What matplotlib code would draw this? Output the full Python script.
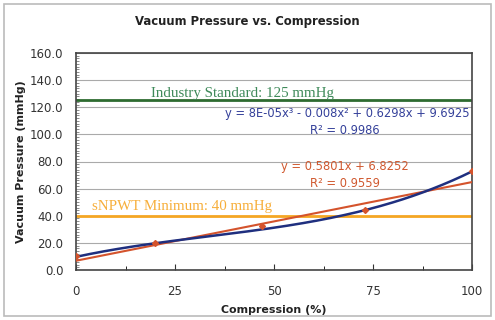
import numpy as np
import matplotlib
matplotlib.use("Agg")
import matplotlib.pyplot as plt
from matplotlib.patches import Rectangle
from matplotlib.ticker import MultipleLocator

# data
comp_x = [0, 20, 47, 73, 100]
vac_y = [10.0, 20.0, 32.5, 44.0, 73.0]
cubic_coef = [8e-05, -0.008, 0.6298, 9.6925]
lin_coef = [0.5801, 6.8252]
industry_std = 125
snpwt_min = 40
x_ticks = [0, 25, 50, 75, 100]
y_ticks = [0, 20, 40, 60, 80, 100, 120, 140, 160]

fig = plt.figure(figsize=(4.95, 3.2), dpi=100)
fig.patches.append(Rectangle((0.008, 0.012), 0.984, 0.975, transform=fig.transFigure,
                             fill=False, edgecolor="#bbbbbb", lw=1.2))
ax = fig.add_axes([76/495, 1-270/320, (472-76)/495, (270-53)/320])

xs = np.linspace(0, 100, 200)
ax.plot(xs, np.polyval(lin_coef, xs), color="#d4532c", lw=1.5, zorder=3)
ax.plot(xs, np.polyval(cubic_coef, xs), color="#1f2f7f", lw=1.8, zorder=4)
ax.plot(comp_x, vac_y, linestyle="none", marker="D", ms=3, color="#d4532c", zorder=5)
ax.axhline(industry_std, color="#2e6b30", lw=2, zorder=2)
ax.axhline(snpwt_min, color="#f5a623", lw=2, zorder=2)

ax.set_xlim(0, 100)
ax.set_ylim(0, 160)
ax.set_xticks(x_ticks)
ax.set_yticks(y_ticks)
ax.set_yticklabels([f"{v:.1f}" for v in y_ticks])
ax.xaxis.set_minor_locator(MultipleLocator(12.5))
ax.yaxis.set_minor_locator(MultipleLocator(2))
ax.tick_params(axis="both", labelsize=8.5, colors="#333333", labelcolor="#333333")
ax.tick_params(axis="x", direction="in", length=4, pad=11)
ax.tick_params(axis="x", which="minor", direction="in", length=3)
ax.tick_params(axis="y", direction="in", length=0, pad=9)
ax.tick_params(axis="y", which="minor", direction="in", length=2, color="#777777")
ax.grid(axis="y", color="#aaaaaa", lw=0.8, zorder=0)
for s in ax.spines.values():
    s.set_color("#444444")
    s.set_linewidth(1.2)

ax.set_xlabel("Compression (%)", fontsize=7.9, fontweight="bold", color="#222222", labelpad=5)
ax.set_ylabel("Vacuum Pressure (mmHg)", fontsize=8, fontweight="bold", color="#222222", labelpad=3)
fig.text(0.5, 1-22/320, "Vacuum Pressure vs. Compression", ha="center", va="center",
         fontsize=8.4, fontweight="bold", color="#222222")

ax.text(19, 130.5, "Industry Standard: 125 mmHg", family="Liberation Serif", fontsize=10.8,
        color="#3f8a5a", va="center", ha="left")
ax.text(4, 46.5, "sNPWT Minimum: 40 mmHg", family="Liberation Serif", fontsize=10.8,
        color="#f7ae3a", va="center", ha="left")
ax.text(99.5, 115.5, "y = 8E-05x³ - 0.008x² + 0.6298x + 9.6925", fontsize=8.3,
        color="#34409a", ha="right", va="center")
ax.text(68, 103, "R² = 0.9986", fontsize=8.3, color="#34409a", ha="center", va="center")
ax.text(68, 76, "y = 0.5801x + 6.8252", fontsize=8.3, color="#d0582e", ha="center", va="center")
ax.text(68, 64, "R² = 0.9559", fontsize=8.3, color="#d0582e", ha="center", va="center")

fig.savefig("out.png", dpi=100)
